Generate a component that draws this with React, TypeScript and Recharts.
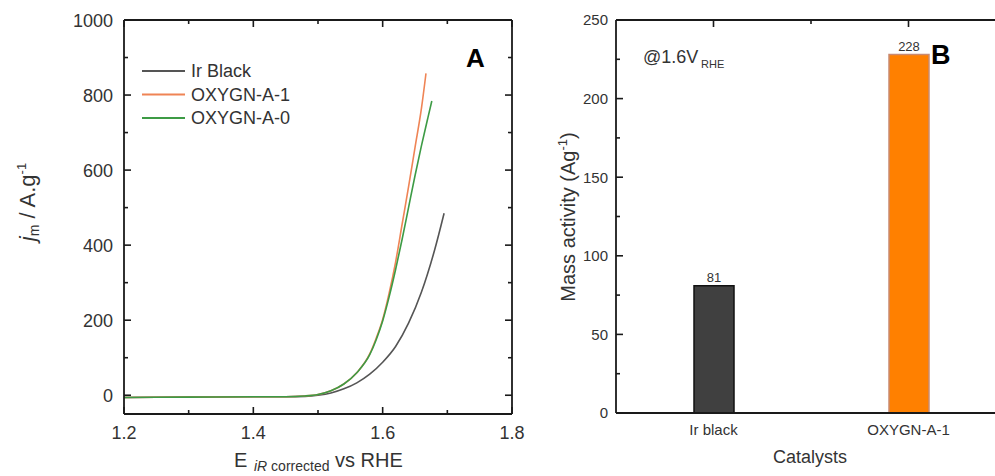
import React from "react";
import { LineChart, Line, XAxis, YAxis, Legend, BarChart, Bar, Cell, LabelList, ReferenceLine } from "recharts";

const FONT = '"Liberation Sans", Arial, Helvetica, sans-serif';
const INK = "#1a1a1a";
const TEXT = "#333";

// Panel A - polarisation curves (E vs RHE, j_m in A/g)
const irBlackE = [1.2, 1.3, 1.4, 1.45, 1.48, 1.5, 1.52, 1.54, 1.56, 1.58, 1.6, 1.62, 1.64, 1.66, 1.68, 1.695];
const irBlackJ = [-6, -5, -4, -4, -3, 0, 6, 17, 33, 56, 88, 130, 192, 275, 385, 485];

const oxygnA1E = [1.2, 1.3, 1.4, 1.45, 1.48, 1.5, 1.52, 1.54, 1.56, 1.58, 1.59, 1.6, 1.61, 1.62, 1.63, 1.64, 1.65, 1.66, 1.667];
const oxygnA1J = [-6, -5, -4, -4, -2, 2, 12, 30, 60, 110, 152, 202, 272, 355, 455, 555, 660, 765, 858];

const oxygnA0E = [1.2, 1.3, 1.4, 1.45, 1.48, 1.5, 1.52, 1.54, 1.56, 1.58, 1.59, 1.6, 1.61, 1.62, 1.63, 1.64, 1.65, 1.66, 1.67, 1.676];
const oxygnA0J = [-6, -5, -4, -4, -2, 2, 12, 30, 60, 108, 148, 198, 262, 335, 415, 500, 585, 665, 740, 784];

const potentialTicks = [1.2, 1.3, 1.4, 1.5, 1.6, 1.7, 1.8];
const currentTicks = [0, 100, 200, 300, 400, 500, 600, 700, 800, 900, 1000];

// Panel B - mass activity at 1.6 V
const catalysts = ["Ir black", "OXYGN-A-1"];
const massActivity = [81, 228];
const barFills = ["#404040", "#ff8000"];
const barEdges = ["#111111", "#c98a72"];
const activityTicks = [0, 25, 50, 75, 100, 125, 150, 175, 200, 225, 250];

const toPoints = (es: number[], js: number[]) => es.map((e, i) => ({ e, j: js[i] }));

const seriesA = [
  { name: "Ir Black", color: "#555555", data: toPoints(irBlackE, irBlackJ) },
  { name: "OXYGN-A-1", color: "#ef8455", data: toPoints(oxygnA1E, oxygnA1J) },
  { name: "OXYGN-A-0", color: "#3d9b45", data: toPoints(oxygnA0E, oxygnA0J) },
];

const barData = catalysts.map((name, i) => ({ name, value: massActivity[i] }));

// chart boxes
const H = 476;
const A_W = 540;
const A_MARGIN = { top: 20, right: 28, bottom: 0, left: 0 };
const A_YAXIS_W = 124;
const A_XAXIS_H = 62;
const A_PLOT_W = A_W - A_MARGIN.right - A_YAXIS_W;
const A_PLOT_H = H - A_MARGIN.top - A_XAXIS_H;

const B_W = 490;
const B_MARGIN = { top: 20, right: 4, bottom: 0, left: 0 };
const B_YAXIS_W = 96;
const B_XAXIS_H = 63;
const B_PLOT_W = B_W - B_MARGIN.right - B_YAXIS_W;

const isMajorE = (v: number) => Math.round(v * 10) % 2 === 0;
const isMajorJ = (v: number) => v % 200 === 0;
const isMajorAct = (v: number) => v % 50 === 0;
const tickLen = (major: boolean) => (major ? 7 : 4);

const seg = (x1: number, y1: number, x2: number, y2: number, w = 1.6) => (
  <line x1={x1} y1={y1} x2={x2} y2={y2} stroke={INK} strokeWidth={w} />
);

// bottom axis of A: inward tick, mirrored top tick, label
function TickAB(props: any) {
  const x = Number(props.x);
  const y = Number(props.y);
  const v = props.payload.value as number;
  const major = isMajorE(v);
  const len = tickLen(major);
  const top = y - A_PLOT_H;
  return (
    <g>
      {seg(x, y, x, y - len)}
      {seg(x, top, x, top + len)}
      {major && (
        <text x={x} y={y + 25} textAnchor="middle" fontSize={18} fill={TEXT} fontFamily={FONT}>
          {v.toFixed(1)}
        </text>
      )}
    </g>
  );
}

// left axis of A: inward tick, mirrored right tick, label
function TickAL(props: any) {
  const x = Number(props.x);
  const y = Number(props.y);
  const v = props.payload.value as number;
  const major = isMajorJ(v);
  const len = tickLen(major);
  const right = x + A_PLOT_W;
  return (
    <g>
      {seg(x, y, x + len, y)}
      {seg(right, y, right - len, y)}
      {major && (
        <text x={x - 11} y={y + 6.5} textAnchor="end" fontSize={18} fill={TEXT} fontFamily={FONT}>
          {v}
        </text>
      )}
    </g>
  );
}

// left axis of B: inward tick and label; the top tick also adds the top-edge ticks
function TickBL(props: any) {
  const x = Number(props.x);
  const y = Number(props.y);
  const v = props.payload.value as number;
  const major = isMajorAct(v);
  const band = B_PLOT_W / catalysts.length;
  const isTop = v === activityTicks[activityTicks.length - 1];
  return (
    <g>
      {seg(x, y, x + tickLen(major), y)}
      {isTop &&
        catalysts.map((c, i) => (
          <g key={c}>
            {seg(x + band * (i + 0.5), y, x + band * (i + 0.5), y + 7)}
            {i > 0 && seg(x + band * i, y, x + band * i, y + 4)}
          </g>
        ))}
      {major && (
        <text x={x - 8} y={y + 5.4} textAnchor="end" fontSize={15} fill={TEXT} fontFamily={FONT}>
          {v}
        </text>
      )}
    </g>
  );
}

function CategoryTick(props: any) {
  const x = Number(props.x);
  const y = Number(props.y);
  return (
    <text x={x} y={y + 22} textAnchor="middle" fontSize={15} fill={TEXT} fontFamily={FONT}>
      {props.payload.value}
    </text>
  );
}

function LegendA(props: any) {
  const names = seriesA.map((s) => s.name);
  const payload = (props.payload || [])
    .filter((p: any) => names.includes(p.value))
    .sort((a: any, b: any) => names.indexOf(a.value) - names.indexOf(b.value));
  return (
    <svg width={200} height={76} style={{ display: "block" }}>
      {payload.map((p: any, i: number) => {
        const cy = 11 + i * 23.5;
        return (
          <g key={p.value}>
            <line x1={2} x2={45} y1={cy} y2={cy} stroke={p.color} strokeWidth={2} />
            <text x={51} y={cy + 6.3} fontSize={18} fill={TEXT} fontFamily={FONT}>
              {p.value}
            </text>
          </g>
        );
      })}
    </svg>
  );
}

// html text placed by its baseline (line-height 1, Liberation Sans baseline at 0.8465em)
function Note(props: { x: number; y: number; size: number; bold?: boolean; center?: boolean; children: React.ReactNode }) {
  const { x, y, size, bold, center, children } = props;
  return (
    <div
      style={{
        position: "absolute",
        left: x,
        top: y - 0.8465 * size,
        fontSize: size,
        lineHeight: 1,
        fontWeight: bold ? "bold" : "normal",
        color: bold ? "#000" : TEXT,
        whiteSpace: "nowrap",
        transform: center ? "translateX(-50%)" : undefined,
      }}
    >
      {children}
    </div>
  );
}

// vertical title, reads bottom to top; x is the baseline position
function VNote(props: { x: number; y: number; size: number; children: React.ReactNode }) {
  const { x, y, size, children } = props;
  return (
    <div
      style={{
        position: "absolute",
        left: x - 0.3465 * size,
        top: y,
        fontSize: size,
        lineHeight: 1,
        color: TEXT,
        whiteSpace: "nowrap",
        transform: "translate(-50%, -50%) rotate(-90deg)",
      }}
    >
      {children}
    </div>
  );
}

const raise = (dy: number, size: number): React.CSSProperties => ({ position: "relative", top: dy, fontSize: size });

const axisLine = { stroke: INK, strokeWidth: 1.8 };

export default function App() {
  return (
    <div
      style={{
        position: "absolute",
        left: 0,
        top: 0,
        width: 995,
        height: H,
        overflow: "hidden",
        background: "#fff",
        fontFamily: FONT,
      }}
    >
      <div style={{ position: "absolute", left: 0, top: 0 }}>
        <LineChart width={A_W} height={H} margin={A_MARGIN}>
          <XAxis
            xAxisId="bottom"
            dataKey="e"
            type="number"
            domain={[1.2, 1.8]}
            ticks={potentialTicks}
            allowDataOverflow
            interval={0}
            height={A_XAXIS_H}
            tickSize={0}
            tickMargin={0}
            tickLine={false}
            axisLine={axisLine}
            tick={TickAB}
          />
          <YAxis
            yAxisId="left"
            type="number"
            domain={[-50, 1000]}
            ticks={currentTicks}
            allowDataOverflow
            interval={0}
            width={A_YAXIS_W}
            tickSize={0}
            tickMargin={0}
            tickLine={false}
            axisLine={axisLine}
            tick={TickAL}
          />
          {/* closing edges of the frame */}
          <ReferenceLine
            xAxisId="bottom"
            yAxisId="left"
            y={currentTicks[currentTicks.length - 1]}
            stroke={INK}
            strokeWidth={1.8}
            ifOverflow="visible"
          />
          <ReferenceLine
            xAxisId="bottom"
            yAxisId="left"
            x={potentialTicks[potentialTicks.length - 1]}
            stroke={INK}
            strokeWidth={1.8}
            ifOverflow="visible"
          />
          <Legend
            layout="vertical"
            align="center"
            verticalAlign="middle"
            content={<LegendA />}
            wrapperStyle={{ left: 140, top: 60, width: 200, height: 76 }}
          />
          {seriesA.map((s) => (
            <Line
              key={s.name}
              xAxisId="bottom"
              yAxisId="left"
              data={s.data}
              dataKey="j"
              name={s.name}
              type="monotone"
              stroke={s.color}
              strokeWidth={1.6}
              dot={false}
              activeDot={false}
              isAnimationActive={false}
            />
          ))}
        </LineChart>
      </div>

      <div style={{ position: "absolute", left: 520, top: 0 }}>
        <BarChart width={B_W} height={H} data={barData} margin={B_MARGIN}>
          <XAxis
            dataKey="name"
            height={B_XAXIS_H}
            tickSize={0}
            tickMargin={0}
            tickLine={false}
            interval={0}
            axisLine={axisLine}
            tick={<CategoryTick />}
          />
          <YAxis
            type="number"
            domain={[0, 250]}
            ticks={activityTicks}
            allowDataOverflow
            interval={0}
            width={B_YAXIS_W}
            tickSize={0}
            tickMargin={0}
            tickLine={false}
            axisLine={axisLine}
            tick={TickBL}
          />
          <ReferenceLine
            y={activityTicks[activityTicks.length - 1]}
            stroke={INK}
            strokeWidth={1.8}
            ifOverflow="visible"
          />
          <Bar dataKey="value" barSize={40} strokeWidth={1.5} isAnimationActive={false}>
            {barData.map((d, i) => (
              <Cell key={d.name} fill={barFills[i]} stroke={barEdges[i]} />
            ))}
            <LabelList dataKey="value" position="top" offset={4} fontSize={13} fill={TEXT} fontFamily={FONT} />
          </Bar>
        </BarChart>
      </div>

      <Note x={466} y={67} size={26} bold>
        A
      </Note>
      <VNote x={36} y={202} size={22}>
        <i>j</i>
        <span style={raise(4, 14)}>m</span> / A.g<span style={raise(-9, 13)}>-1</span>
      </VNote>
      <Note x={234} y={467} size={20}>
        E
      </Note>
      <Note x={254} y={471} size={14}>
        <i>iR</i> corrected
      </Note>
      <Note x={335} y={467} size={20}>
        vs RHE
      </Note>

      <Note x={931} y={65} size={27} bold>
        B
      </Note>
      <Note x={643} y={63} size={18}>
        @1.6V
      </Note>
      <Note x={701} y={68} size={11}>
        RHE
      </Note>
      <VNote x={575} y={217} size={20}>
        Mass activity (Ag<span style={raise(-8, 13)}>-1</span>)
      </VNote>
      <Note x={810} y={463} size={18} center>
        Catalysts
      </Note>
    </div>
  );
}
